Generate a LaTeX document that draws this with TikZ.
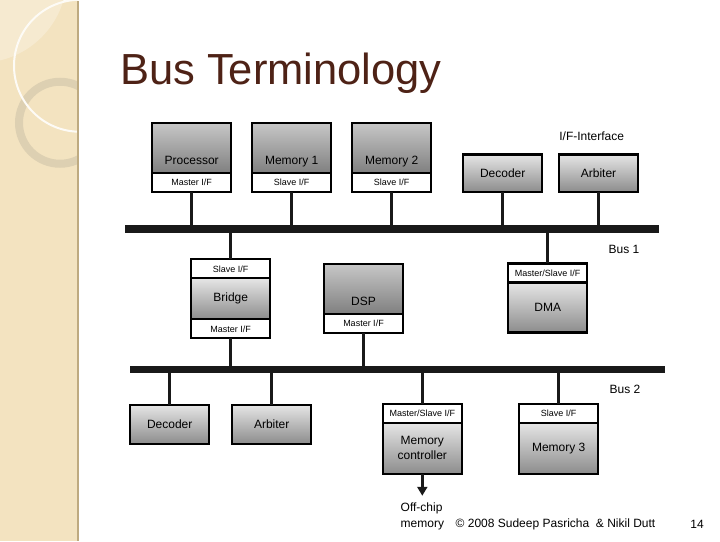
\documentclass[tikz,border=0pt]{standalone}
\usepackage{fontspec}
\setmainfont{Liberation Sans}
\usetikzlibrary{positioning, arrows.meta}
\definecolor{titlebrown}{RGB}{78,34,22}
\definecolor{stripbeige}{RGB}{243,227,192}
\definecolor{stripedge}{RGB}{190,170,128}
\definecolor{stripglow}{RGB}{246,234,208}
\definecolor{ringtan}{RGB}{221,208,178}

\begin{document}
\begin{tikzpicture}[x=1pt, y=-1pt,
  unit/.style={draw, line width=2.2pt, top color=black!10, bottom color=black!45,
    minimum width=79pt, inner sep=0pt, outer sep=0pt, align=center,
    font=\fontsize{12}{15}\selectfont},
  lowunit/.style={unit, top color=black!22, bottom color=black!50,
    minimum height=50pt, text height=42pt, text depth=8pt},
  iface/.style={draw, line width=2.2pt, fill=white, minimum width=79pt,
    minimum height=19pt, inner sep=0pt, outer sep=0pt,
    font=\fontsize{9}{10}\selectfont},
  bus/.style={fill=black!90, inner sep=0pt, outer sep=0pt},
  link/.style={line width=3.4pt, black!90},
  caption/.style={font=\fontsize{12}{16}\selectfont}]
  \fill[white] (0,0) rectangle (720,540);

  % left strip
  \fill[stripbeige] (0,0) rectangle (78,540);
  \begin{scope}
    \clip (0,0) rectangle (78,540);
    \fill[stripglow] (-20,-25) circle[radius=87pt];
    \draw[line width=8pt, ringtan] (60,122) circle[radius=41pt];
    \draw[line width=2pt, white!85!stripbeige] (80,65) circle[radius=66pt];
  \end{scope}
  \draw[line width=1.5pt, stripedge] (78,0) -- (78,540);

  \node[anchor=base west, font=\fontsize{43.5}{44}\selectfont, text=titlebrown,
    inner sep=0pt] (title) at (120,84) {Bus Terminology};

  % buses
  \node[bus, minimum width=534pt, minimum height=7.7pt] (bus1) at (392,228) {};
  \node[bus, minimum width=535pt, minimum height=7.4pt] (bus2) at (397.5,369) {};
  \node[caption] (bus1-t) at (624,249) {Bus 1};
  \node[caption] (bus2-t) at (625,389) {Bus 2};

  % units on bus 1
  \node[lowunit] (proc) at (191.7,147.2) {Processor};
  \node[iface, below=0pt of proc] (proc-if) {Master I/F};
  \node[lowunit] (mem1) at (291.7,147.2) {Memory 1};
  \node[iface, below=0pt of mem1] (mem1-if) {Slave I/F};
  \node[lowunit] (mem2) at (391.7,147.2) {Memory 2};
  \node[iface, below=0pt of mem2] (mem2-if) {Slave I/F};
  \node[unit, minimum height=37.5pt] (dec1) at (502.7,172.4) {Decoder};
  \node[unit, minimum height=37.5pt] (arb1) at (598.5,172.4) {Arbiter};
  \node[caption] (iface-t) at (591.7,135.7) {I/F-Interface};

  % bridge, dsp, dma
  \node[iface] (bridge-s) at (230.7,268.1) {Slave I/F};
  \node[unit, minimum height=41pt, below=0pt of bridge-s] (bridge) {Bridge};
  \node[iface, below=0pt of bridge] (bridge-m) {Master I/F};
  \node[lowunit] (dsp) at (363.5,288.2) {DSP};
  \node[iface, below=0pt of dsp] (dsp-if) {Master I/F};
  \node[iface] (dma-if) at (547.7,272.2) {Master/Slave I/F};
  \node[unit, minimum height=50pt, below=0pt of dma-if] (dma) {DMA};

  % units on bus 2
  \node[unit, minimum height=39pt] (dec2) at (169.7,423.6) {Decoder};
  \node[unit, minimum height=39pt] (arb2) at (271.7,423.6) {Arbiter};
  \node[iface] (mc-if) at (422.3,412.5) {Master/Slave I/F};
  \node[unit, minimum height=51pt, below=0pt of mc-if] (mc) {Memory\\controller};
  \node[iface] (mem3-if) at (558.7,412.5) {Slave I/F};
  \node[unit, minimum height=51pt, below=0pt of mem3-if] (mem3) {Memory 3};

  % connectors
  \foreach \n in {proc-if, mem1-if, mem2-if, dec1, arb1}
    \draw[link] (\n.south) -- (\n.south |- bus1.north);
  \foreach \n in {bridge-s, dma-if}
    \draw[link] (bus1.south -| \n.north) -- (\n.north);
  \foreach \n in {bridge-m, dsp-if}
    \draw[link] (\n.south) -- (\n.south |- bus2.north);
  \foreach \n in {dec2, arb2, mc-if, mem3-if}
    \draw[link] (bus2.south -| \n.north) -- (\n.north);

  \coordinate (offchip-tip) at (422.3,495);
  \draw[link, -{Triangle[width=10pt, length=9pt]}] (mc.south) -- (offchip-tip);
  \node[caption, align=left, anchor=west, inner sep=0pt] (offchip) at (400.5,516)
    {Off-chip\\memory};

  \node[caption, anchor=west, inner sep=0pt] (credit) at (455.5,524)
    {© 2008 Sudeep Pasricha~ \& Nikil Dutt};
  \node[caption] (page) at (697,524) {14};
\end{tikzpicture}
\end{document}
